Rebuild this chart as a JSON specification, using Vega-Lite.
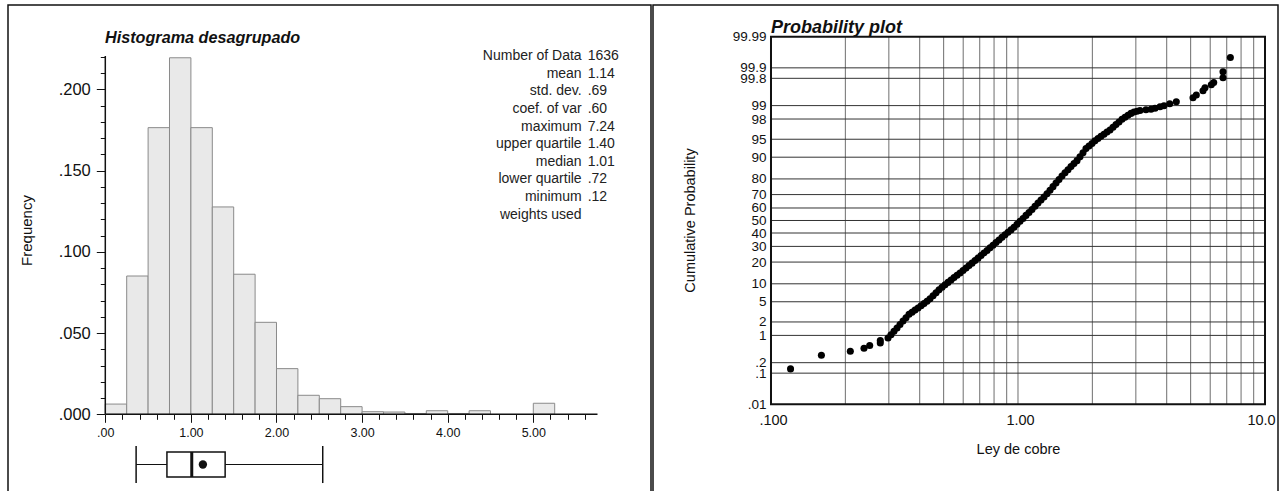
{
  "$schema": "https://vega.github.io/schema/vega-lite/v6.json",
  "padding": {"left": 7, "top": 4, "right": 7, "bottom": 0},
  "background": "white",
  "spacing": 0,
  "config": {
    "font": "Liberation Sans",
    "view": {"stroke": "#111111", "strokeWidth": 1.5},
    "axis": {"labelFont": "Liberation Sans", "titleFont": "Liberation Sans", "labelColor": "#111111", "titleColor": "#111111", "titleFontWeight": "normal", "grid": false, "domain": false, "labelOverlap": false, "labelBound": false, "labelFlush": false, "tickColor": "#111111"},
    "title": {"font": "Liberation Sans", "color": "#111111"}
  },
  "datasets": {
    "hist": [
      {"lo": 0, "hi": 0.25, "freq": 0.0063},
      {"lo": 0.25, "hi": 0.5, "freq": 0.0851},
      {"lo": 0.5, "hi": 0.75, "freq": 0.1764},
      {"lo": 0.75, "hi": 1.0, "freq": 0.2194},
      {"lo": 1.0, "hi": 1.25, "freq": 0.1764},
      {"lo": 1.25, "hi": 1.5, "freq": 0.1276},
      {"lo": 1.5, "hi": 1.75, "freq": 0.0862},
      {"lo": 1.75, "hi": 2.0, "freq": 0.0566},
      {"lo": 2.0, "hi": 2.25, "freq": 0.0281},
      {"lo": 2.25, "hi": 2.5, "freq": 0.0117},
      {"lo": 2.5, "hi": 2.75, "freq": 0.0096},
      {"lo": 2.75, "hi": 3.0, "freq": 0.0047},
      {"lo": 3.0, "hi": 3.25, "freq": 0.0016},
      {"lo": 3.25, "hi": 3.5, "freq": 0.0014},
      {"lo": 3.5, "hi": 3.75, "freq": 0.0005},
      {"lo": 3.75, "hi": 4.0, "freq": 0.0022},
      {"lo": 4.0, "hi": 4.25, "freq": 0.0005},
      {"lo": 4.25, "hi": 4.5, "freq": 0.0022},
      {"lo": 5.0, "hi": 5.25, "freq": 0.0068}
    ],
    "box": [{"lo": 0.36, "q1": 0.72, "med": 1.01, "q3": 1.40, "hi": 2.54, "mean": 1.14}],
    "stats": [
      {"stat": "Number of Data", "val": "1636"},
      {"stat": "mean", "val": "1.14"},
      {"stat": "std. dev.", "val": ".69"},
      {"stat": "coef. of var", "val": ".60"},
      {"stat": "maximum", "val": "7.24"},
      {"stat": "upper quartile", "val": "1.40"},
      {"stat": "median", "val": "1.01"},
      {"stat": "lower quartile", "val": ".72"},
      {"stat": "minimum", "val": ".12"},
      {"stat": "weights used", "val": ""}
    ],
    "xgrid": [
      {"g": 0.2}, {"g": 0.3}, {"g": 0.4}, {"g": 0.5}, {"g": 0.6}, {"g": 0.7}, {"g": 0.8}, {"g": 0.9}, {"g": 1},
      {"g": 2}, {"g": 3}, {"g": 4}, {"g": 5}, {"g": 6}, {"g": 7}, {"g": 8}, {"g": 9}
    ],
    "ygrid": [
      {"z": -3.090}, {"z": -2.878}, {"z": -2.326}, {"z": -2.054}, {"z": -1.645}, {"z": -1.2816}, {"z": -0.8416},
      {"z": -0.5244}, {"z": -0.2533}, {"z": 0}, {"z": 0.2533}, {"z": 0.5244}, {"z": 0.8416}, {"z": 1.2816},
      {"z": 1.645}, {"z": 2.054}, {"z": 2.326}, {"z": 2.878}, {"z": 3.090}
    ],
    "pp": [
      {"ley": 0.120, "z": -3.004}, {"ley": 0.160, "z": -2.727}, {"ley": 0.2095, "z": -2.646}, {"ley": 0.238, "z": -2.586},
      {"ley": 0.251, "z": -2.531}, {"ley": 0.277, "z": -2.479}, {"ley": 0.277, "z": -2.430},
      {"ley": 0.2977, "z": -2.378}, {"ley": 0.3061, "z": -2.311}, {"ley": 0.3148, "z": -2.244}, {"ley": 0.3238, "z": -2.176},
      {"ley": 0.3329, "z": -2.105}, {"ley": 0.3424, "z": -2.035}, {"ley": 0.3521, "z": -1.968}, {"ley": 0.3621, "z": -1.899},
      {"ley": 0.3723, "z": -1.857}, {"ley": 0.3829, "z": -1.814}, {"ley": 0.3938, "z": -1.772}, {"ley": 0.4049, "z": -1.727},
      {"ley": 0.4164, "z": -1.682}, {"ley": 0.4282, "z": -1.636}, {"ley": 0.4404, "z": -1.586}, {"ley": 0.4529, "z": -1.525},
      {"ley": 0.4657, "z": -1.465}, {"ley": 0.4789, "z": -1.404}, {"ley": 0.4925, "z": -1.352}, {"ley": 0.5065, "z": -1.303},
      {"ley": 0.5208, "z": -1.253}, {"ley": 0.5356, "z": -1.204}, {"ley": 0.5508, "z": -1.156}, {"ley": 0.5664, "z": -1.107},
      {"ley": 0.5825, "z": -1.061}, {"ley": 0.5990, "z": -1.012}, {"ley": 0.6160, "z": -0.964}, {"ley": 0.6334, "z": -0.913},
      {"ley": 0.6514, "z": -0.863}, {"ley": 0.6699, "z": -0.812}, {"ley": 0.6889, "z": -0.762}, {"ley": 0.7084, "z": -0.709},
      {"ley": 0.7285, "z": -0.657}, {"ley": 0.7491, "z": -0.606}, {"ley": 0.7704, "z": -0.554}, {"ley": 0.7922, "z": -0.500},
      {"ley": 0.8147, "z": -0.446}, {"ley": 0.8378, "z": -0.394}, {"ley": 0.8615, "z": -0.341}, {"ley": 0.8860, "z": -0.289},
      {"ley": 0.9111, "z": -0.239}, {"ley": 0.9369, "z": -0.190}, {"ley": 0.9635, "z": -0.135}, {"ley": 0.9908, "z": -0.077},
      {"ley": 1.0189, "z": -0.016}, {"ley": 1.0478, "z": 0.042}, {"ley": 1.0775, "z": 0.103}, {"ley": 1.1080, "z": 0.162},
      {"ley": 1.1394, "z": 0.224}, {"ley": 1.1717, "z": 0.287}, {"ley": 1.2050, "z": 0.352}, {"ley": 1.2391, "z": 0.414},
      {"ley": 1.2743, "z": 0.477}, {"ley": 1.3104, "z": 0.543}, {"ley": 1.3476, "z": 0.614}, {"ley": 1.3858, "z": 0.685},
      {"ley": 1.4251, "z": 0.758}, {"ley": 1.4655, "z": 0.828}, {"ley": 1.5070, "z": 0.899}, {"ley": 1.5498, "z": 0.966},
      {"ley": 1.5937, "z": 1.028}, {"ley": 1.6389, "z": 1.091}, {"ley": 1.6854, "z": 1.152}, {"ley": 1.7332, "z": 1.212},
      {"ley": 1.7823, "z": 1.288}, {"ley": 1.8329, "z": 1.372}, {"ley": 1.8848, "z": 1.455}, {"ley": 1.9383, "z": 1.507},
      {"ley": 1.9933, "z": 1.560}, {"ley": 2.0498, "z": 1.612}, {"ley": 2.1079, "z": 1.659}, {"ley": 2.1677, "z": 1.703},
      {"ley": 2.2292, "z": 1.745}, {"ley": 2.2924, "z": 1.790}, {"ley": 2.3574, "z": 1.832}, {"ley": 2.4243, "z": 1.887},
      {"ley": 2.4930, "z": 1.941}, {"ley": 2.5637, "z": 1.994}, {"ley": 2.6364, "z": 2.048}, {"ley": 2.7112, "z": 2.091},
      {"ley": 2.7881, "z": 2.129}, {"ley": 2.8672, "z": 2.168}, {"ley": 2.9485, "z": 2.197}, {"ley": 3.0321, "z": 2.212},
      {"ley": 3.1181, "z": 2.227},
      {"ley": 3.297, "z": 2.242}, {"ley": 3.455, "z": 2.253}, {"ley": 3.587, "z": 2.273}, {"ley": 3.758, "z": 2.303},
      {"ley": 3.900, "z": 2.323}, {"ley": 4.114, "z": 2.364}, {"ley": 4.374, "z": 2.404}, {"ley": 5.111, "z": 2.485},
      {"ley": 5.271, "z": 2.539}, {"ley": 5.611, "z": 2.626}, {"ley": 5.716, "z": 2.687}, {"ley": 6.062, "z": 2.747},
      {"ley": 6.199, "z": 2.794}, {"ley": 6.761, "z": 2.889}, {"ley": 6.761, "z": 3.010}, {"ley": 7.24, "z": 3.299}
    ]
  },
  "hconcat": [
    {
      "width": 643,
      "height": 491,
      "title": {"text": "Histograma desagrupado", "anchor": "start", "frame": "group", "dx": 97, "offset": -54.5, "baseline": "alphabetic", "fontSize": 16.2, "fontStyle": "italic", "fontWeight": "bold"},
      "layer": [
        {
          "layer": [
            {
              "data": {"name": "hist"},
              "mark": {"type": "rect", "fill": "#e9e9e9", "stroke": "#8a8a8a", "strokeWidth": 1},
              "encoding": {
                "x": {"field": "lo", "type": "quantitative", "scale": {"domain": [-1.13668, 6.375], "nice": false, "zero": false},
                  "axis": {"title": null, "orient": "bottom", "offset": -81.7, "labelOverlap": false, "tickCount": 1000,
                    "values": [0, 0.2, 0.4, 0.6, 0.8, 1, 1.2, 1.4, 1.6, 1.8, 2, 2.2, 2.4, 2.6, 2.8, 3, 3.2, 3.4, 3.6, 3.8, 4, 4.2, 4.4, 4.6, 4.8, 5, 5.2, 5.4, 5.6],
                    "labelExpr": "abs(datum.value - round(datum.value)) < 0.001 ? (datum.value == 0 ? '.00' : format(datum.value, '.2f')) : ''",
                    "tickSize": {"condition": {"test": "abs(datum.value - round(datum.value)) < 0.001", "value": 8}, "value": 5},
                    "tickWidth": 1, "labelFontSize": 12.5, "labelPadding": 4}},
                "x2": {"field": "hi"},
                "y": {"field": "freq", "type": "quantitative", "scale": {"domain": [-0.050277, 0.25188], "nice": false, "zero": false},
                  "axis": {"title": "Frequency", "orient": "left", "offset": -97.3, "labelOverlap": false, "tickCount": 1000,
                    "values": [0, 0.01, 0.02, 0.03, 0.04, 0.05, 0.06, 0.07, 0.08, 0.09, 0.1, 0.11, 0.12, 0.13, 0.14, 0.15, 0.16, 0.17, 0.18, 0.19, 0.2, 0.21, 0.22],
                    "labelExpr": "abs(datum.value*20 - round(datum.value*20)) < 0.001 ? replace(format(datum.value, '.3f'), '0.', '.') : ''",
                    "tickSize": {"condition": {"test": "abs(datum.value*20 - round(datum.value*20)) < 0.001", "value": 9}, "value": 5},
                    "tickWidth": 1, "labelFontSize": 16.5, "labelPadding": 6, "titleFontSize": 15, "titlePadding": 24, "titleY": 225}},
                "y2": {"datum": 0}
              }
            },
            {
              "data": {"values": [{}]},
              "mark": {"type": "rule", "color": "#111111", "strokeWidth": 1.5},
              "encoding": {"x": {"datum": 0, "type": "quantitative"}, "y": {"datum": 0, "type": "quantitative"}, "y2": {"datum": 0.2205}}
            },
            {
              "data": {"values": [{}]},
              "mark": {"type": "rule", "color": "#111111", "strokeWidth": 1.5},
              "encoding": {"x": {"datum": 0, "type": "quantitative"}, "x2": {"datum": 5.75}, "y": {"datum": 0, "type": "quantitative"}}
            },
            {
              "data": {"name": "box"},
              "mark": {"type": "rule", "color": "#111111", "strokeWidth": 1},
              "encoding": {"x": {"field": "lo", "type": "quantitative"}, "x2": {"field": "q1"}, "y": {"datum": -0.0309, "type": "quantitative"}}
            },
            {
              "data": {"name": "box"},
              "mark": {"type": "rule", "color": "#111111", "strokeWidth": 1},
              "encoding": {"x": {"field": "q3", "type": "quantitative"}, "x2": {"field": "hi"}, "y": {"datum": -0.0309, "type": "quantitative"}}
            },
            {
              "data": {"name": "box"},
              "mark": {"type": "rule", "color": "#111111", "strokeWidth": 1.5},
              "encoding": {"x": {"field": "lo", "type": "quantitative"}, "y": {"datum": -0.0195, "type": "quantitative"}, "y2": {"datum": -0.0423}}
            },
            {
              "data": {"name": "box"},
              "mark": {"type": "rule", "color": "#111111", "strokeWidth": 1.5},
              "encoding": {"x": {"field": "hi", "type": "quantitative"}, "y": {"datum": -0.0195, "type": "quantitative"}, "y2": {"datum": -0.0423}}
            },
            {
              "data": {"name": "box"},
              "mark": {"type": "rect", "fill": "white", "stroke": "#111111", "strokeWidth": 1.5},
              "encoding": {"x": {"field": "q1", "type": "quantitative"}, "x2": {"field": "q3"}, "y": {"datum": -0.0232, "type": "quantitative"}, "y2": {"datum": -0.0386}}
            },
            {
              "data": {"name": "box"},
              "mark": {"type": "rule", "color": "#111111", "strokeWidth": 3},
              "encoding": {"x": {"field": "med", "type": "quantitative"}, "y": {"datum": -0.0232, "type": "quantitative"}, "y2": {"datum": -0.0386}}
            },
            {
              "data": {"name": "box"},
              "mark": {"type": "circle", "color": "#111111", "size": 70, "opacity": 1},
              "encoding": {"x": {"field": "mean", "type": "quantitative"}, "y": {"datum": -0.0309, "type": "quantitative"}}
            }
          ]
        },
        {
          "data": {"name": "stats"},
          "layer": [
            {
              "mark": {"type": "text", "align": "right", "baseline": "middle", "dx": -3, "fontSize": 14, "color": "#222222"},
              "encoding": {
                "x": {"datum": 5.6, "type": "quantitative"},
                "y": {"field": "stat", "type": "ordinal", "sort": null, "scale": {"type": "point", "padding": 0, "range": [51.1, 209.6]}, "axis": null},
                "text": {"field": "stat"}
              }
            },
            {
              "mark": {"type": "text", "align": "left", "baseline": "middle", "dx": 3, "fontSize": 14, "color": "#222222"},
              "encoding": {
                "x": {"datum": 5.6, "type": "quantitative"},
                "y": {"field": "stat", "type": "ordinal", "sort": null, "scale": {"type": "point", "padding": 0, "range": [51.1, 209.6]}, "axis": null},
                "text": {"field": "val"}
              }
            }
          ]
        }
      ],
      "resolve": {"scale": {"y": "independent"}}
    },
    {
      "width": 625,
      "height": 491,
      "title": {"text": "Probability plot", "anchor": "start", "frame": "group", "dx": 118, "offset": -46, "baseline": "alphabetic", "fontSize": 18, "fontStyle": "italic", "fontWeight": "bold"},
      "layer": [
        {
          "data": {"name": "xgrid"},
          "mark": {"type": "rule", "color": "#6e6e6e", "strokeWidth": 1},
          "encoding": {
            "x": {"field": "g", "type": "quantitative", "scale": {"type": "log", "domain": [0.033289, 11.288], "nice": false}},
            "y": {"datum": -3.719, "type": "quantitative", "scale": {"domain": [-5.5769, 4.3623], "nice": false, "zero": false}},
            "y2": {"datum": 3.719}
          }
        },
        {
          "data": {"name": "ygrid"},
          "mark": {"type": "rule", "color": "#333333", "strokeWidth": 1},
          "encoding": {
            "x": {"datum": 0.1, "type": "quantitative", "scale": {"type": "log", "domain": [0.033289, 11.288], "nice": false}},
            "x2": {"datum": 10},
            "y": {"field": "z", "type": "quantitative", "scale": {"domain": [-5.5769, 4.3623], "nice": false, "zero": false}}
          }
        },
        {
          "data": {"values": [{}]},
          "mark": {"type": "rect", "fillOpacity": 0, "stroke": "#111111", "strokeWidth": 2},
          "encoding": {
            "x": {"datum": 0.1, "type": "quantitative", "scale": {"type": "log", "domain": [0.033289, 11.288], "nice": false}},
            "x2": {"datum": 10},
            "y": {"datum": -3.719, "type": "quantitative", "scale": {"domain": [-5.5769, 4.3623], "nice": false, "zero": false}},
            "y2": {"datum": 3.719}
          }
        },
        {
          "data": {"name": "pp"},
          "mark": {"type": "circle", "color": "#000000", "size": 50, "opacity": 1},
          "encoding": {
            "x": {"field": "ley", "type": "quantitative", "scale": {"type": "log", "domain": [0.033289, 11.288], "nice": false},
              "axis": {"title": "Ley de cobre", "orient": "bottom", "offset": -91.7, "values": [0.1, 1, 10], "labelOverlap": false, "tickCount": 1000,
                "labelExpr": "datum.value < 0.5 ? '.100' : datum.value < 5 ? '1.00' : '10.0'",
                "labelOffset": {"condition": {"test": "datum.value > 5", "value": -4}, "value": 2},
                "ticks": false, "labelPadding": 9, "labelFontSize": 14.5, "titleFontSize": 14.5, "titlePadding": 16, "titleX": 365}},
            "y": {"field": "z", "type": "quantitative", "scale": {"domain": [-5.5769, 4.3623], "nice": false, "zero": false},
              "axis": {"title": "Cumulative Probability", "orient": "left", "offset": -118, "labelOverlap": false, "tickCount": 1000,
                "values": [-3.719, -3.090, -2.878, -2.326, -2.054, -1.645, -1.2816, -0.8416, -0.5244, -0.2533, 0, 0.2533, 0.5244, 0.8416, 1.2816, 1.645, 2.054, 2.326, 2.878, 3.090, 3.719],
                "labelExpr": "datum.value > 3.5 ? '99.99' : datum.value > 3 ? '99.9' : datum.value > 2.8 ? '99.8' : datum.value > 2.2 ? '99' : datum.value > 2 ? '98' : datum.value > 1.6 ? '95' : datum.value > 1.2 ? '90' : datum.value > 0.8 ? '80' : datum.value > 0.5 ? '70' : datum.value > 0.2 ? '60' : datum.value > -0.1 ? '50' : datum.value > -0.3 ? '40' : datum.value > -0.6 ? '30' : datum.value > -0.9 ? '20' : datum.value > -1.3 ? '10' : datum.value > -1.7 ? '5' : datum.value > -2.1 ? '2' : datum.value > -2.4 ? '1' : datum.value > -2.9 ? '.2' : datum.value > -3.2 ? '.1' : '.01'",
                "ticks": false, "labelPadding": 5, "labelFontSize": 13.5, "titleFontSize": 14.5, "titlePadding": 35, "titleY": 215}}
          }
        }
      ]
    }
  ]
}
